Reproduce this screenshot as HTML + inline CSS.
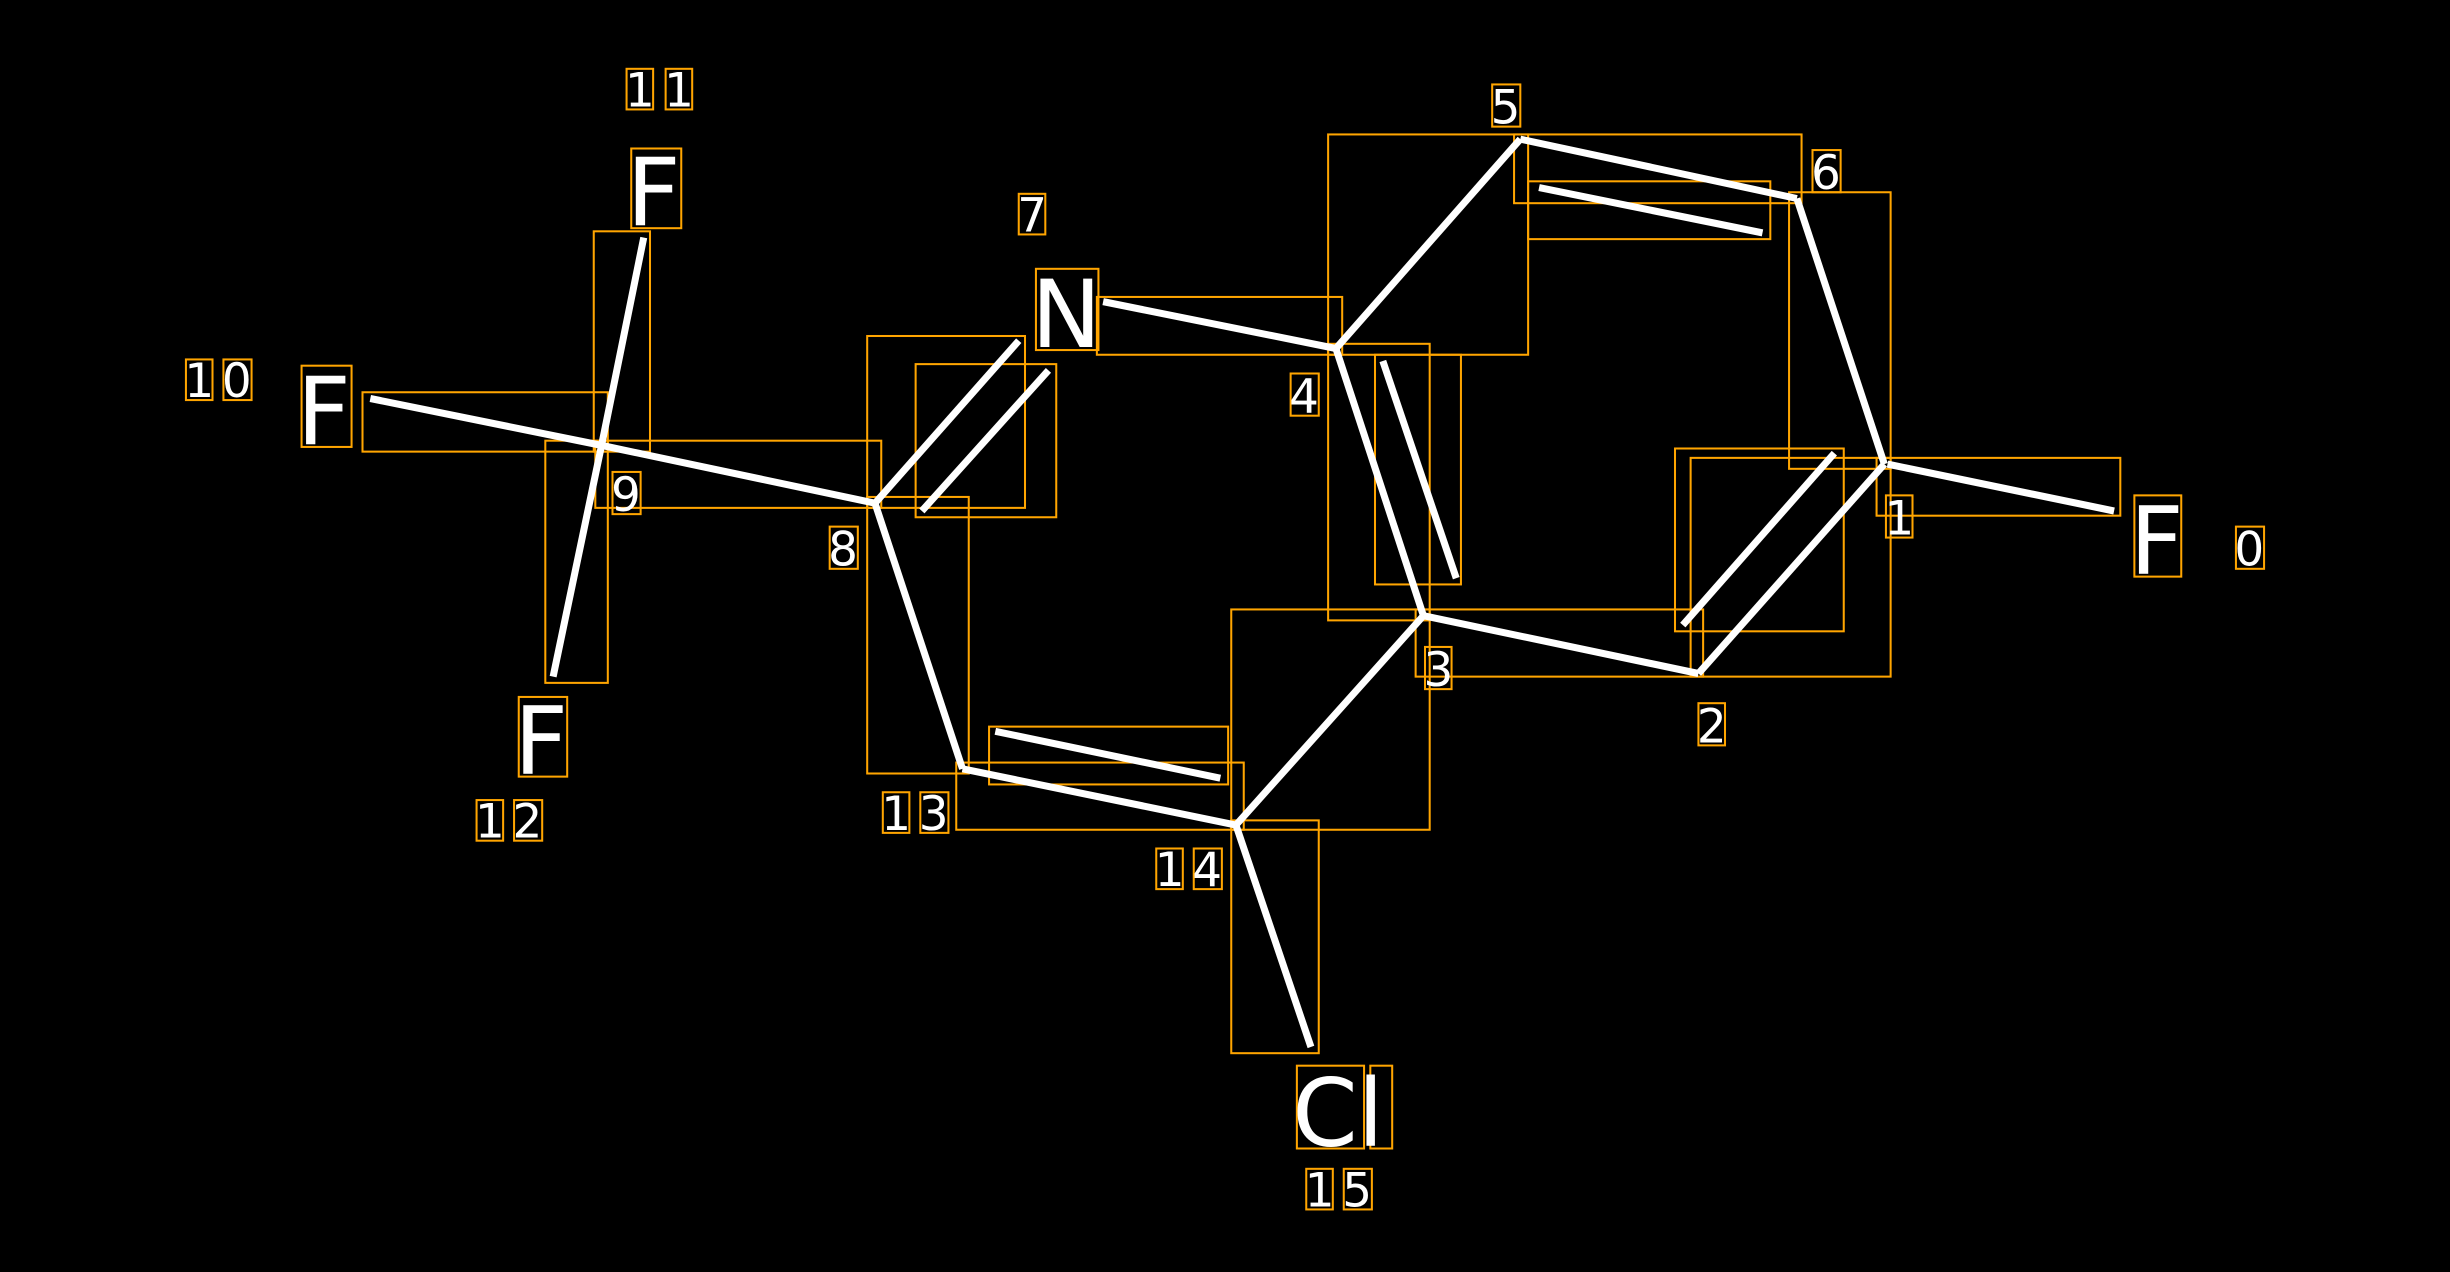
<!DOCTYPE html>
<html><head><meta charset="utf-8"><style>
html,body{margin:0;padding:0;background:#000;}
svg{display:block;}
text{font-family:"DejaVu Sans","Liberation Sans",sans-serif;fill:#fff;}
</style></head><body>
<svg width="2450" height="1272" viewBox="0 0 1568 814" xmlns="http://www.w3.org/2000/svg">
<rect width="1568" height="814" fill="#000"/>
<g fill="none" stroke="#FFA500" stroke-width="1.3">
<rect x="1201" y="293" width="156" height="37"/>
<rect x="1145" y="123" width="65" height="177"/>
<rect x="969" y="86" width="184" height="44"/>
<rect x="978" y="116" width="155" height="37"/>
<rect x="850" y="86" width="128" height="141"/>
<rect x="702" y="190" width="157" height="37"/>
<rect x="850" y="220" width="65" height="177"/>
<rect x="880" y="227" width="55" height="147"/>
<rect x="906" y="390" width="184" height="43"/>
<rect x="1082" y="293" width="128" height="140"/>
<rect x="1072" y="287" width="108" height="117"/>
<rect x="788" y="390" width="127" height="141"/>
<rect x="612" y="488" width="184" height="43"/>
<rect x="633" y="465" width="153" height="37"/>
<rect x="788" y="525" width="56" height="149"/>
<rect x="555" y="318" width="65" height="177"/>
<rect x="555" y="215" width="101" height="110"/>
<rect x="586" y="233" width="90" height="98"/>
<rect x="381" y="282" width="183" height="43"/>
<rect x="232" y="251" width="157" height="38"/>
<rect x="380" y="148" width="36" height="141"/>
<rect x="349" y="282" width="40" height="155"/>
<!-- atom label boxes -->
<rect x="1366" y="317" width="30" height="52"/>
<rect x="663" y="172" width="40" height="52"/>
<rect x="404" y="95" width="32" height="51"/>
<rect x="193" y="234" width="32" height="52"/>
<rect x="332" y="446" width="31" height="51"/>
<rect x="830" y="682" width="43" height="53"/>
<rect x="877" y="682" width="14" height="53"/>
<!-- number label boxes -->
<rect x="1431" y="337" width="18" height="27"/>
<rect x="1207" y="317" width="17" height="27"/>
<rect x="1087" y="450" width="17" height="27"/>
<rect x="912" y="414" width="17" height="27"/>
<rect x="826" y="239" width="18" height="27"/>
<rect x="955" y="54" width="18" height="27"/>
<rect x="1160" y="96" width="18" height="27"/>
<rect x="652" y="124" width="17" height="26"/>
<rect x="531" y="337" width="18" height="27"/>
<rect x="392" y="302" width="18" height="27"/>
<rect x="119" y="230" width="17" height="26"/>
<rect x="143" y="230" width="18" height="26"/>
<rect x="401" y="44" width="17" height="26"/>
<rect x="426" y="44" width="17" height="26"/>
<rect x="305" y="512" width="17" height="26"/>
<rect x="329" y="512" width="18" height="26"/>
<rect x="565" y="507" width="17" height="26"/>
<rect x="589" y="507" width="18" height="26"/>
<rect x="740" y="543" width="17" height="26"/>
<rect x="764" y="543" width="18" height="26"/>
<rect x="836" y="748" width="17" height="26"/>
<rect x="860" y="748" width="18" height="26"/>
</g>
<g stroke="#fff" stroke-width="4.5" stroke-linecap="butt">
<line x1="1208" y1="297" x2="1353" y2="327"/>
<line x1="1206" y1="297" x2="1150" y2="127"/>
<line x1="1150" y1="127" x2="973" y2="89"/>
<line x1="985" y1="120" x2="1128" y2="149"/>
<line x1="973" y1="89" x2="855" y2="223"/>
<line x1="855" y1="223" x2="706" y2="193"/>
<line x1="855" y1="223" x2="911" y2="394"/>
<line x1="885" y1="231" x2="932" y2="370"/>
<line x1="911" y1="394" x2="1087" y2="431"/>
<line x1="1087" y1="431" x2="1206" y2="297"/>
<line x1="1077" y1="400" x2="1174" y2="290"/>
<line x1="911" y1="394" x2="791" y2="528"/>
<line x1="791" y1="528" x2="616" y2="492"/>
<line x1="637" y1="468" x2="781" y2="498"/>
<line x1="791" y1="528" x2="839" y2="670"/>
<line x1="616" y1="492" x2="560" y2="322"/>
<line x1="560" y1="322" x2="652" y2="218"/>
<line x1="590" y1="327" x2="671" y2="237"/>
<line x1="560" y1="322" x2="385" y2="285"/>
<line x1="385" y1="285" x2="237" y2="255"/>
<line x1="385" y1="285" x2="412" y2="152"/>
<line x1="385" y1="285" x2="354" y2="433"/>
</g>
<g font-size="60">
<text x="1363" y="367">F</text>
<text x="660" y="222">N</text>
<text x="401" y="144">F</text>
<text x="190" y="284">F</text>
<text x="329" y="495">F</text>
<text x="827" y="733">Cl</text>
</g>
<g font-size="30">
<text x="1430" y="362">0</text>
<text x="1206" y="342">1</text>
<text x="1086" y="475">2</text>
<text x="911" y="439">3</text>
<text x="825" y="264">4</text>
<text x="954" y="79">5</text>
<text x="1159" y="121">6</text>
<text x="651" y="148">7</text>
<text x="530" y="362">8</text>
<text x="391" y="327">9</text>
<text x="118" y="254">1</text><text x="142" y="254">0</text>
<text x="400" y="68">1</text><text x="425" y="68">1</text>
<text x="304" y="536">1</text><text x="328" y="536">2</text>
<text x="564" y="531">1</text><text x="588" y="531">3</text>
<text x="739" y="567">1</text><text x="763" y="567">4</text>
<text x="835" y="772">1</text><text x="859" y="772">5</text>
</g>
</svg>
</body></html>
